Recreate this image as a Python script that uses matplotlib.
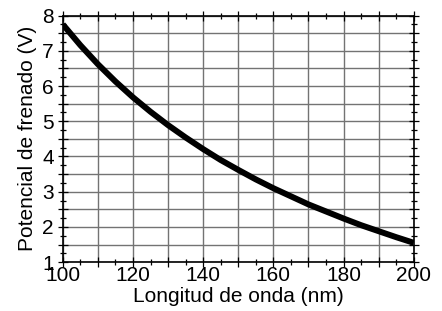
import matplotlib
matplotlib.use("Agg")
import matplotlib.pyplot as plt
from matplotlib.ticker import MultipleLocator, FuncFormatter

plt.rcParams['font.family'] = ['Liberation Sans', 'DejaVu Sans']

wavelength_nm = [100, 105, 110, 115, 120, 125, 130, 135, 140, 145, 150,
                 155, 160, 165, 170, 175, 180, 185, 190, 195, 200]
stopping_V = [7.75, 7.16, 6.62, 6.13, 5.68, 5.27, 4.89, 4.54, 4.21, 3.90, 3.62,
              3.35, 3.10, 2.87, 2.64, 2.44, 2.24, 2.05, 1.88, 1.71, 1.55]

fig = plt.figure(figsize=(4.42, 3.11), dpi=100)
ax = fig.add_axes([0.142, 0.157, 0.794, 0.793])

ax.plot(wavelength_nm, stopping_V, color='black', lw=4.3, solid_capstyle='butt', zorder=3)

ax.set_xlim(100, 200)
ax.set_ylim(1, 8)

ax.xaxis.set_major_locator(MultipleLocator(10))
ax.xaxis.set_minor_locator(MultipleLocator(5))
ax.yaxis.set_major_locator(MultipleLocator(0.5))
ax.yaxis.set_minor_locator(MultipleLocator(0.25))
ax.xaxis.set_major_formatter(FuncFormatter(lambda v, p: f"{int(round(v))}" if round(v) % 20 == 0 else ""))
ax.yaxis.set_major_formatter(FuncFormatter(lambda v, p: f"{int(round(v))}" if abs(v - round(v)) < 1e-6 else ""))

ax.grid(True, which='major', color='#737373', lw=1.0)
ax.tick_params(which='both', direction='inout', top=True, right=True,
               labeltop=False, labelright=False, color='black', width=0.9)
ax.tick_params(which='major', length=7, labelsize=15)
ax.tick_params(axis='x', which='major', pad=-0.5)
ax.tick_params(axis='y', which='major', pad=3)
ax.tick_params(which='minor', length=4.5)
for s in ax.spines.values():
    s.set_linewidth(1.2)

ax.set_xlabel("Longitud de onda (nm)", fontsize=15, labelpad=1)
ax.set_ylabel("Potencial de frenado (V)", fontsize=15, labelpad=4)

fig.savefig("out.png", dpi=100)
